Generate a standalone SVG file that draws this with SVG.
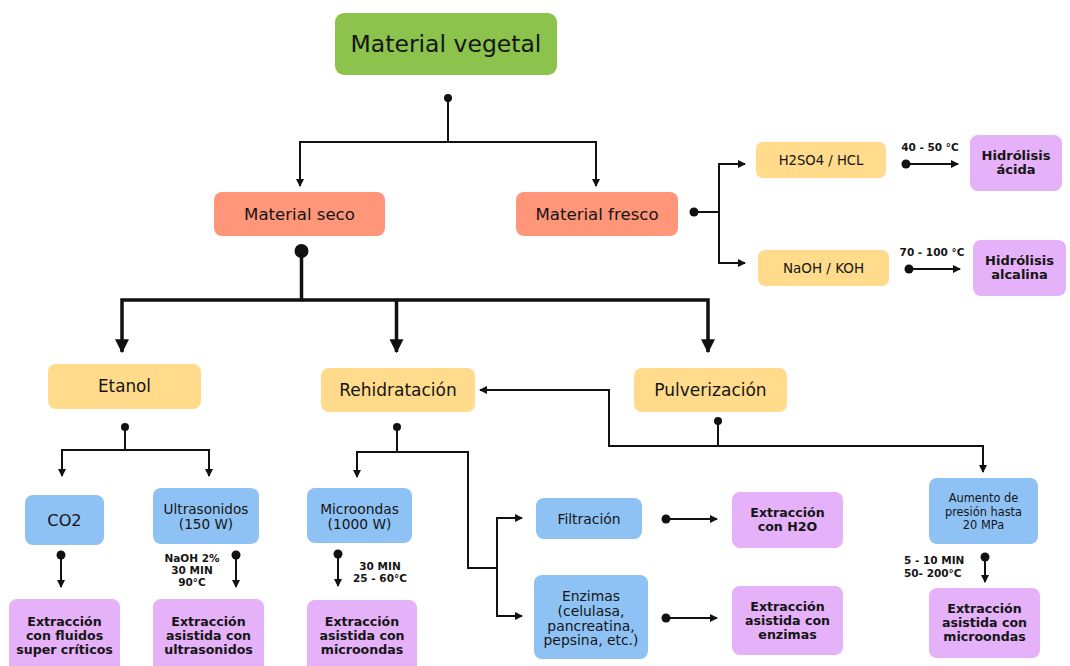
<svg xmlns="http://www.w3.org/2000/svg" width="1070" height="666" viewBox="0 0 1070 666">
<defs>
<style>
.box{stroke:none}
.g{fill:#8BC34C}.s{fill:#FF9579}.y{fill:#FFDB8B}.b{fill:#8EC2F4}.p{fill:#E5B1F8}
text{font-family:"DejaVu Sans","Liberation Sans",sans-serif;fill:#151515;text-anchor:middle}
.bd{font-weight:bold}
.st{text-anchor:start}
.c{fill:none;stroke:#111;stroke-width:2}
.ct{fill:none;stroke:#111;stroke-width:3.5}
.dot{fill:#111}
</style>
<marker id="a" viewBox="0 0 8 8" refX="7" refY="4" markerWidth="8" markerHeight="8" markerUnits="userSpaceOnUse" orient="auto"><path d="M0,0 L8,4 L0,8 z" fill="#111"/></marker>
<marker id="at" viewBox="0 0 12 12" refX="11" refY="6" markerWidth="14" markerHeight="14" markerUnits="userSpaceOnUse" orient="auto"><path d="M0,0 L12,6 L0,12 z" fill="#111"/></marker>
</defs>
<rect width="1070" height="666" fill="#fff"/>

<g id="connectors">
<circle class="dot" cx="448" cy="98" r="4"/>
<path class="c" d="M448,98 V142 H300 V186" marker-end="url(#a)"/>
<path class="c" d="M448,142 H596 V186" marker-end="url(#a)"/>
<circle class="dot" cx="301.5" cy="251" r="7"/>
<path class="ct" d="M301.5,251 V300 H122 V352" marker-end="url(#at)"/>
<path class="ct" d="M301.5,300 H708 V352" marker-end="url(#at)"/>
<path class="ct" d="M396.5,300 V352" marker-end="url(#at)"/>
<circle class="dot" cx="694" cy="212" r="4.5"/>
<path class="c" d="M694,212 H719"/>
<path class="c" d="M745,164 H719 V263 H745" marker-end="url(#a)"/>
<path class="c" d="M719,164 H745" marker-end="url(#a)"/>
<circle class="dot" cx="906" cy="164" r="4.5"/>
<path class="c" d="M906,164 H958" marker-end="url(#a)"/>
<circle class="dot" cx="909" cy="269" r="4.5"/>
<path class="c" d="M909,269 H960" marker-end="url(#a)"/>
<circle class="dot" cx="125" cy="427" r="4"/>
<path class="c" d="M125,427 V450 H62 V476" marker-end="url(#a)"/>
<path class="c" d="M125,450 H209 V476" marker-end="url(#a)"/>
<circle class="dot" cx="397" cy="427" r="4"/>
<path class="c" d="M397,427 V452 H357 V477" marker-end="url(#a)"/>
<path class="c" d="M397,452 H468 V568 H497"/>
<path class="c" d="M522,518 H497 V616 H522" marker-end="url(#a)"/>
<path class="c" d="M497,518 H522" marker-end="url(#a)"/>
<circle class="dot" cx="718" cy="421" r="4"/>
<path class="c" d="M718,421 V446"/>
<path class="c" d="M983,472 V446 H609 V390 H480" marker-end="url(#a)"/>
<path class="c" d="M983,446 V472" marker-end="url(#a)"/>
<circle class="dot" cx="61" cy="555" r="4.5"/>
<path class="c" d="M61,555 V587" marker-end="url(#a)"/>
<circle class="dot" cx="236" cy="555" r="4.5"/>
<path class="c" d="M236,555 V587" marker-end="url(#a)"/>
<circle class="dot" cx="338" cy="554" r="4.5"/>
<path class="c" d="M338,554 V586" marker-end="url(#a)"/>
<circle class="dot" cx="985" cy="557" r="4.5"/>
<path class="c" d="M985,557 V582" marker-end="url(#a)"/>
<circle class="dot" cx="666" cy="519" r="4.5"/>
<path class="c" d="M666,519 H717" marker-end="url(#a)"/>
<circle class="dot" cx="666" cy="618" r="4.5"/>
<path class="c" d="M666,618 H717" marker-end="url(#a)"/>
<text class="bd" x="930" y="151" font-size="10.5">40 - 50 °C</text>
<text class="bd" x="932" y="256" font-size="10.5">70 - 100 °C</text>
<text class="bd" x="192" y="562" font-size="10.5">NaOH 2%</text>
<text class="bd" x="192" y="574" font-size="10.5">30 MIN</text>
<text class="bd" x="192" y="586" font-size="10.5">90°C</text>
<text class="bd" x="380" y="570" font-size="10.5">30 MIN</text>
<text class="bd" x="380" y="582" font-size="10.5">25 - 60°C</text>
<text class="bd st" x="904" y="564" font-size="10.5">5 - 10  MIN</text>
<text class="bd st" x="904" y="576.5" font-size="10.5">50- 200°C</text>
</g>

<g id="material-vegetal"><rect class="box g" x="335" y="13" width="222" height="62" rx="9"/><text x="446" y="52" font-size="23.5">Material vegetal</text></g>
<g id="material-seco"><rect class="box s" x="214" y="192" width="171" height="44" rx="8"/><text x="299.5" y="220" font-size="16.6">Material seco</text></g>
<g id="material-fresco"><rect class="box s" x="516" y="192" width="162" height="44" rx="8"/><text x="597" y="220" font-size="16.6">Material fresco</text></g>
<g id="h2so4"><rect class="box y" x="756" y="142" width="130" height="36" rx="7"/><text x="821" y="165" font-size="13.2">H2SO4 / HCL</text></g>
<g id="naoh-koh"><rect class="box y" x="758" y="250" width="131" height="36" rx="7"/><text x="823.5" y="273" font-size="13.5">NaOH / KOH</text></g>
<g id="hidrolisis-acida"><rect class="box p" x="970" y="135" width="92" height="56" rx="8"/><text class="bd" x="1016" y="160" font-size="13">Hidrólisis</text><text class="bd" x="1016" y="174" font-size="13">ácida</text></g>
<g id="hidrolisis-alcalina"><rect class="box p" x="973" y="240" width="93" height="56" rx="8"/><text class="bd" x="1019.5" y="265" font-size="13">Hidrólisis</text><text class="bd" x="1019.5" y="279" font-size="13">alcalina</text></g>
<g id="etanol"><rect class="box y" x="48" y="364" width="153" height="45" rx="8"/><text x="124.5" y="392" font-size="16.8">Etanol</text></g>
<g id="rehidratacion"><rect class="box y" x="321" y="368" width="154" height="44" rx="8"/><text x="398" y="396" font-size="17">Rehidratación</text></g>
<g id="pulverizacion"><rect class="box y" x="634" y="368" width="153" height="44" rx="8"/><text x="710.5" y="396" font-size="17">Pulverización</text></g>
<g id="co2"><rect class="box b" x="25" y="495" width="79" height="50" rx="8"/><text x="64.5" y="526" font-size="16.2">CO2</text></g>
<g id="ultrasonidos"><rect class="box b" x="153" y="488" width="106" height="56" rx="8"/><text x="206" y="514" font-size="13.6">Ultrasonidos</text><text x="206" y="529" font-size="13.6">(150 W)</text></g>
<g id="microondas"><rect class="box b" x="307" y="488" width="105" height="55" rx="8"/><text x="359.5" y="514" font-size="13.8">Microondas</text><text x="359.5" y="528.5" font-size="13.8">(1000 W)</text></g>
<g id="filtracion"><rect class="box b" x="536" y="498" width="106" height="41" rx="8"/><text x="589" y="523.5" font-size="13.9">Filtración</text></g>
<g id="enzimas"><rect class="box b" x="534" y="575" width="114" height="84" rx="8"/><text x="591" y="601" font-size="13.9">Enzimas</text><text x="591" y="615.5" font-size="13.9">(celulasa,</text><text x="591" y="630.5" font-size="13.9">pancreatina,</text><text x="591" y="645" font-size="13.9">pepsina, etc.)</text></g>
<g id="aumento-presion"><rect class="box b" x="929" y="478" width="109" height="66" rx="8"/><text x="983.5" y="502" font-size="11.4">Aumento de</text><text x="983.5" y="515.5" font-size="11.4">presión hasta</text><text x="983.5" y="529" font-size="11.4">20 MPa</text></g>
<g id="ext-fluidos"><rect class="box p" x="9" y="599" width="111" height="75" rx="8"/><text class="bd" x="64.5" y="626" font-size="12.6">Extracción</text><text class="bd" x="64.5" y="640" font-size="12.6">con fluidos</text><text class="bd" x="64.5" y="654" font-size="12.6">super críticos</text></g>
<g id="ext-ultrasonidos"><rect class="box p" x="153" y="599" width="111" height="75" rx="8"/><text class="bd" x="208.5" y="626" font-size="12.6">Extracción</text><text class="bd" x="208.5" y="640" font-size="12.6">asistida con</text><text class="bd" x="208.5" y="654" font-size="12.6">ultrasonidos</text></g>
<g id="ext-microondas"><rect class="box p" x="307" y="600" width="110" height="75" rx="8"/><text class="bd" x="362" y="626" font-size="12.6">Extracción</text><text class="bd" x="362" y="640" font-size="12.6">asistida con</text><text class="bd" x="362" y="654" font-size="12.6">microondas</text></g>
<g id="ext-h2o"><rect class="box p" x="732" y="492" width="111" height="56" rx="8"/><text class="bd" x="787.5" y="517" font-size="12.6">Extracción</text><text class="bd" x="787.5" y="531" font-size="12.6">con H2O</text></g>
<g id="ext-enzimas"><rect class="box p" x="732" y="586" width="111" height="69" rx="8"/><text class="bd" x="787.5" y="611" font-size="12.6">Extracción</text><text class="bd" x="787.5" y="625" font-size="12.6">asistida con</text><text class="bd" x="787.5" y="639" font-size="12.6">enzimas</text></g>
<g id="ext-microondas-2"><rect class="box p" x="929" y="588" width="111" height="70" rx="8"/><text class="bd" x="984.5" y="613" font-size="12.6">Extracción</text><text class="bd" x="984.5" y="627" font-size="12.6">asistida con</text><text class="bd" x="984.5" y="641" font-size="12.6">microondas</text></g>
</svg>
